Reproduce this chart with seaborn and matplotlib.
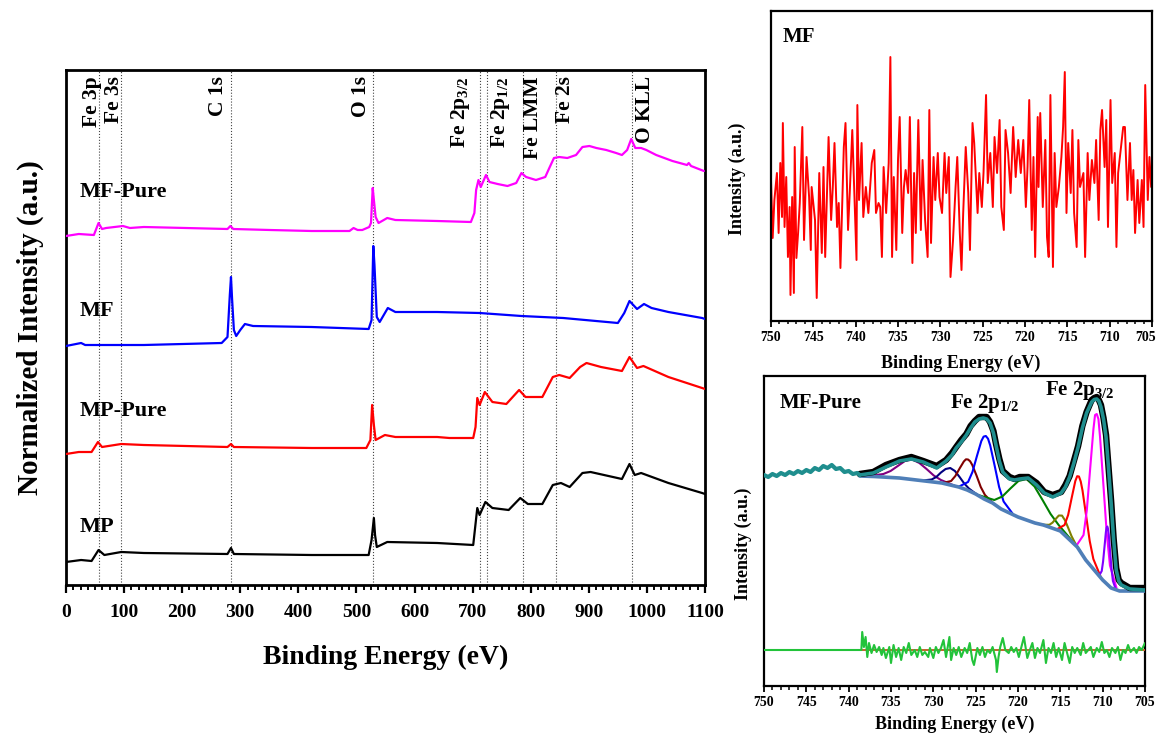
import numpy as np
import pandas as pd
import matplotlib
matplotlib.use("Agg")
import matplotlib.pyplot as plt
import matplotlib.transforms as mtransforms
from matplotlib.ticker import MultipleLocator, FormatStrFormatter
import seaborn as sns

# ------------------------------------------------------------------ survey spectra (offset, normalized)
mp_E = [0, 26, 44, 56, 66, 95, 134, 278, 284, 289, 423, 521, 526, 530, 532, 535, 553, 639, 701, 708,
        712, 722, 734, 762, 782, 795, 820, 838, 852, 867, 889, 903, 957, 970, 979, 990, 1037, 1095, 1100]
mp_I = [23, 25, 24, 35, 30, 33, 32, 31, 37, 31, 30, 30, 45, 67, 50, 38, 43, 42, 40, 77,
        70, 83, 77, 75, 87, 81, 81, 100, 102, 98, 112, 113, 106, 121, 110, 112, 102, 92, 91]

mpp_E = [0, 22, 44, 55, 62, 95, 134, 278, 284, 289, 423, 517, 524, 527, 530, 533, 549, 567, 639, 660,
         701, 705, 708, 712, 721, 734, 758, 780, 791, 820, 838, 849, 867, 885, 896, 921, 957, 970, 983,
         994, 1037, 1095, 1100]
mpp_I = [131, 133, 133, 143, 138, 141, 140, 138, 141, 138, 137, 137, 145, 180, 160, 145, 150, 148, 148, 147,
         147, 158, 187, 180, 193, 183, 181, 195, 188, 188, 208, 210, 207, 218, 222, 218, 214, 228, 217,
         219, 208, 197, 196]

mf_E = [0, 26, 33, 134, 268, 278, 282, 284, 286, 289, 293, 300, 308, 322, 423, 521, 526, 529, 531, 535,
        540, 554, 567, 639, 712, 784, 856, 950, 961, 970, 983, 995, 1008, 1037, 1095, 1100]
mf_I = [239, 242, 240, 240, 242, 248, 290, 308, 285, 255, 249, 255, 261, 259, 258, 256, 265, 339, 320, 268,
        263, 277, 273, 273, 272, 269, 267, 262, 272, 284, 276, 281, 277, 273, 267, 266]

mfp_E = [0, 22, 48, 56, 62, 69, 98, 110, 134, 206, 278, 283, 288, 351, 423, 488, 495, 502, 510, 522,
         525, 528, 530, 533, 538, 553, 567, 639, 697, 703, 706, 710, 714, 723, 729, 743, 760, 775, 784,
         792, 809, 825, 832, 840, 849, 863, 878, 889, 901, 913, 930, 947, 957, 966, 973, 980, 990, 999,
         1016, 1044, 1069, 1072, 1076, 1098]
mfp_I = [349, 351, 350, 362, 356, 357, 359, 357, 358, 357, 356, 359, 356, 355, 354, 354, 357, 355, 355, 358,
         362, 397, 385, 368, 362, 367, 365, 364, 363, 372, 395, 405, 398, 410, 403, 401, 399, 402, 412,
         408, 405, 408, 417, 427, 428, 427, 430, 438, 439, 437, 435, 432, 430, 435, 446, 437, 437, 435,
         430, 424, 420, 422, 419, 414]

survey_names = ["MF-Pure", "MF", "MP-Pure", "MP"]

peak_names = ["Fe 3p", "Fe 3s", "C 1s", "O 1s", r"Fe 2p$_{3/2}$", r"Fe 2p$_{1/2}$", "Fe LMM", "Fe 2s", "O KLL"]
peak_E = [57, 95, 284, 529, 712, 724, 787, 844, 975]

# ------------------------------------------------------------------ MF Fe 2p high resolution (noise only)
mfz_E = [750.0, 749.8, 749.6, 749.3, 749.1, 748.9, 748.7, 748.6, 748.4, 748.2,
         748.0, 747.8, 747.7, 747.5, 747.3, 747.2, 747.0, 746.8, 746.6, 746.3,
         746.1, 745.8, 745.5, 745.3, 745.2, 744.8, 744.6, 744.3, 744.0, 743.8,
         743.6, 743.3, 743.2, 742.9, 742.7, 742.5, 742.2, 742.0, 741.8, 741.4,
         741.2, 740.9, 740.7, 740.4, 740.1, 739.9, 739.8, 739.6, 739.3, 739.1,
         738.8, 738.5, 738.1, 737.8, 737.6, 737.3, 737.1, 736.9, 736.7, 736.4,
         736.1, 735.9, 735.7, 735.5, 735.2, 735.0, 734.8, 734.5, 734.3, 734.1,
         733.8, 733.6, 733.3, 733.1, 732.9, 732.6, 732.3, 732.1, 731.8, 731.5,
         731.3, 731.1, 730.8, 730.6, 730.3, 730.1, 729.8, 729.5, 729.3, 729.0,
         728.8, 728.5, 728.2, 728.0, 727.7, 727.5, 727.3, 727.0, 726.7, 726.5,
         726.2, 726.0, 725.6, 725.4, 725.1, 724.9, 724.6, 724.4, 724.1, 723.8,
         723.6, 723.3, 723.0, 722.8, 722.5, 722.3, 722.0, 721.7, 721.4, 721.1,
         720.8, 720.5, 720.2, 719.9, 719.7, 719.5, 719.2, 719.0, 718.8, 718.5,
         718.4, 718.2, 717.9, 717.6, 717.4, 717.2, 717.0, 716.7, 716.5, 716.3,
         716.0, 715.7, 715.5, 715.3, 715.1, 714.9, 714.6, 714.4, 714.2, 713.9,
         713.7, 713.5, 713.1, 712.9, 712.6, 712.4, 712.1, 711.8, 711.6, 711.3,
         711.1, 710.9, 710.6, 710.4, 710.2, 709.9, 709.7, 709.4, 709.2, 709.0,
         708.7, 708.4, 708.2, 707.9, 707.6, 707.4, 707.2, 707.0, 706.7, 706.5,
         706.2, 706.0, 705.8, 705.5, 705.3, 705.1]
mfz_I = [140, 82, 120, 147, 87, 157, 103, 197, 93, 143,
         63, 113, 25, 123, 27, 173, 62, 87, 117, 193,
         80, 163, 123, 70, 133, 100, 22, 147, 67, 153,
         63, 153, 183, 100, 133, 177, 93, 117, 52, 173,
         197, 90, 127, 190, 113, 60, 215, 120, 177, 103,
         133, 107, 157, 170, 107, 117, 113, 63, 153, 107,
         157, 263, 63, 143, 70, 160, 203, 87, 133, 150,
         127, 203, 57, 147, 87, 200, 90, 160, 100, 63,
         210, 77, 163, 120, 167, 123, 107, 167, 127, 163,
         43, 80, 133, 163, 87, 50, 107, 173, 127, 70,
         197, 177, 107, 147, 113, 147, 225, 137, 167, 113,
         183, 147, 200, 113, 90, 190, 167, 127, 193, 143,
         180, 147, 180, 113, 153, 220, 90, 163, 63, 203,
         133, 207, 113, 180, 83, 63, 225, 53, 167, 113,
         133, 163, 193, 248, 107, 177, 127, 190, 107, 73,
         180, 133, 147, 63, 167, 120, 160, 137, 180, 100,
         190, 210, 153, 200, 93, 220, 137, 167, 73, 147,
         170, 193, 193, 120, 177, 120, 150, 87, 140, 97,
         140, 93, 235, 120, 163, 133]

# ------------------------------------------------------------------ MF-Pure Fe 2p fit
raw_left_E = [750.0, 749.5, 749.0, 748.5, 748.0, 747.5, 747.0, 746.5, 746.0, 745.5, 745.0, 744.5,
              744.0, 743.5, 743.0, 742.5, 742.0, 741.5, 741.0, 740.5, 740.0, 739.5, 739.0, 738.7]
raw_left_I = [210, 208, 211, 209, 212, 210, 213, 211, 214, 212, 215, 213,
              217, 215, 219, 217, 220, 216, 217, 213, 214, 211, 212, 210]

fit_E = [738.7, 737.1, 735.6, 734.0, 732.6, 731.2, 729.6, 728.5, 727.8, 727.3,
         726.7, 726.1, 725.6, 725.1, 724.6, 724.1, 723.7, 723.3, 722.9, 722.6,
         722.2, 721.8, 721.0, 720.4, 719.8, 718.8, 717.8, 716.9, 715.9, 714.9,
         714.4, 713.9, 713.4, 712.9, 712.4, 711.9, 711.3, 711.0, 710.7, 710.45,
         710.2, 709.9, 709.6, 709.3, 709.0, 708.7, 708.4, 708.1, 707.8, 706.8, 705.0]
envelope_I = [210, 212, 218, 224, 226, 223, 217, 224, 230, 237,
              243, 250, 257, 263, 266, 267, 266, 262, 252, 240,
              224, 213, 206, 205, 206, 207, 200, 192, 188, 192,
              198, 208, 222, 238, 257, 272, 283, 285.5, 286, 284,
              278, 266, 248, 216, 182, 145, 115, 104, 100, 96, 95]
data_I = [211, 213, 220, 225, 228, 224, 219, 225, 232, 238,
          245, 251, 259, 264, 268, 268, 268, 263, 254, 241,
          226, 214, 208, 206, 208, 208, 202, 193, 190, 193,
          200, 209, 224, 239, 259, 273, 285, 287, 288, 285,
          280, 267, 250, 217, 184, 146, 117, 105, 102, 97, 97]

bg_E = [738.7, 737, 736, 735, 734, 733, 732, 731, 730, 729, 728, 727, 726, 725, 724, 723, 722, 721,
        720, 719, 718, 717, 716, 715, 714, 713, 712, 711, 710, 709, 708, 707, 706, 705]
bg_I = [209, 208.5, 208, 207.5, 207, 206, 205, 204, 203, 202, 200, 198, 195, 191, 186, 182, 176, 172,
        168, 165, 162, 160, 157, 154, 146, 138, 125, 115, 105, 97, 94, 94, 94, 94]

sat1_E = [737.6, 735.9, 735.05, 734.2, 733.35, 732.5, 731.65, 730.8, 729.95, 729.1, 727.4]
sat1_I = [209, 211, 214, 219, 224, 225.5, 222, 216, 209.5, 205, 199]
sat2_E = [731.3, 730.2, 729.65, 729.1, 728.55, 728.0, 727.45, 726.9, 726.35, 725.8, 724.7]
sat2_I = [204.5, 205.5, 208, 212.5, 216, 217, 214, 208, 201.5, 196.5, 189.5]
p12a_E = [728.9, 727.9, 727.4, 726.9, 726.4, 726.15, 725.9, 725.65, 725.4, 724.9, 724.4, 723.9, 722.9]
p12a_I = [202, 204, 209, 216.5, 223.5, 225.7, 225.5, 223.7, 220, 209.5, 198, 190, 181.5]
p12b_E = [726.95, 725.9, 725.38, 724.85, 724.33, 724.06, 723.8, 723.54, 723.28, 722.75, 722.23, 721.7, 720.65]
p12b_I = [198.5, 203, 213, 229, 244, 248.4, 249, 246.3, 239.5, 219, 198, 183.5, 171.5]
sat3_E = [724.7, 722.8, 721.85, 720.9, 719.95, 719.0, 718.05, 717.1, 716.15, 715.2, 713.3]
sat3_I = [190, 185, 188.5, 196.5, 204, 206, 198.5, 185, 171, 160, 141]
p32a_E = [717.05, 716.3, 715.93, 715.55, 715.18, 714.8, 714.43, 714.05, 713.68, 713.3, 712.55]
p32a_I = [160.3, 160.2, 162.3, 166, 169.5, 169.4, 164.4, 156.7, 148.9, 142.7, 132.4]
p32b_E = [715.35, 714.5, 714.08, 713.65, 713.23, 713.01, 712.8, 712.59, 712.38, 711.95, 711.53, 711.1, 710.25]
p32b_I = [156, 160, 170, 187.5, 204, 208.8, 208.5, 203.5, 194.5, 169, 144, 126, 108.5]
p32c_E = [713.05, 712.26, 711.87, 711.48, 711.09, 710.9, 710.7, 710.5, 710.31, 709.92, 709.53, 709.14, 708.36]
p32c_I = [140, 150, 175, 216, 256, 270, 271, 266, 248, 201, 153, 119.5, 97]
p32d_E = [710.44, 710.11, 709.95, 709.78, 709.62, 709.53, 709.45, 709.37, 709.28, 709.12, 708.95, 708.79, 708.46]
p32d_I = [109, 114, 123.5, 138.5, 153, 157.5, 158.5, 156.2, 150.5, 133, 116, 104, 96]

res_E = [750.0, 738.5,
         738.4, 738.2, 738.0, 737.8, 737.6, 737.3, 737.0, 736.7, 736.4, 736.1,
         735.9, 735.6, 735.2, 735.0, 734.7, 734.4, 734.1, 733.8, 733.5, 733.2,
         732.9, 732.6, 732.2, 731.9, 731.6, 731.3, 731.0, 730.6, 730.4, 730.0,
         729.7, 729.4, 729.1, 728.8, 728.5, 728.1, 727.9, 727.6, 727.3, 727.0,
         726.7, 726.3, 726.0, 725.7, 725.4, 725.2, 724.8, 724.5, 724.2, 723.9,
         723.6, 723.3, 723.0, 722.6, 722.5, 722.3, 722.1, 721.8, 721.5, 721.1,
         720.8, 720.5, 720.2, 719.9, 719.6, 719.3, 718.9, 718.6, 718.3, 718.0,
         717.7, 717.4, 717.0, 716.7, 716.4, 716.1, 715.8, 715.5, 715.2, 714.8,
         714.5, 714.2, 713.9, 713.6, 713.3, 713.0, 712.6, 712.3, 712.0, 711.7,
         711.4, 711.1, 710.7, 710.4, 710.1, 709.8, 709.5, 709.2, 708.9, 708.5,
         708.2, 707.9, 707.6, 707.3, 707.0, 706.7, 706.3, 706.0, 705.7, 705.4,
         705.0]
res_I = [35, 35,
         53, 38, 48, 28, 42, 32, 40, 33, 38, 30,
         37, 27, 38, 22, 40, 28, 37, 25, 38, 32,
         42, 30, 35, 28, 38, 30, 33, 28, 37, 27,
         38, 32, 37, 45, 28, 48, 25, 37, 30, 38,
         28, 37, 32, 42, 25, 20, 37, 30, 38, 28,
         35, 32, 38, 25, 13, 28, 38, 47, 35, 32,
         38, 33, 37, 28, 38, 48, 27, 35, 42, 27,
         37, 32, 45, 22, 37, 32, 42, 28, 37, 25,
         42, 32, 22, 38, 32, 37, 30, 42, 32, 35,
         38, 28, 37, 33, 43, 32, 35, 28, 37, 32,
         38, 25, 35, 32, 40, 33, 37, 32, 38, 35,
         42]
res_zero_E = [738.5, 705.0]
res_zero_I = [35, 35]

# ------------------------------------------------------------------ style
sns.set_theme(style="ticks")
plt.rcParams["font.family"] = ["Liberation Serif", "DejaVu Serif"]
plt.rcParams["font.weight"] = "bold"
plt.rcParams["axes.labelweight"] = "bold"
plt.rcParams["mathtext.fontset"] = "custom"
plt.rcParams["mathtext.rm"] = "Liberation Serif:bold"
plt.rcParams["mathtext.it"] = "Liberation Serif:bold"
plt.rcParams["mathtext.bf"] = "Liberation Serif:bold"
plt.rcParams["text.color"] = "black"
plt.rcParams["axes.labelcolor"] = "black"
plt.rcParams["xtick.color"] = "black"
plt.rcParams["ytick.color"] = "black"

W, H = 1159, 736
fig = plt.figure(figsize=(W / 100, H / 100), dpi=100)
fig.patch.set_facecolor("white")


def px_axes(l, t, r, b):
    return fig.add_axes([l / W, 1 - b / H, (r - l) / W, (b - t) / H])


def draw(ax, x, y, color, lw, z=2):
    sns.lineplot(x=x, y=y, ax=ax, color=color, linewidth=lw, estimator=None,
                 sort=False, legend=False, zorder=z, solid_joinstyle="round")


def style(ax, spine_w, maj, mino, tw, lsize, pad):
    ax.set_facecolor("white")
    for s in ax.spines.values():
        s.set_visible(True)
        s.set_linewidth(spine_w)
        s.set_color("black")
    ax.tick_params(axis="x", which="major", direction="out", length=maj, width=tw,
                   labelsize=lsize, pad=pad, bottom=True, top=False, colors="black")
    ax.tick_params(axis="x", which="minor", direction="out", length=mino, width=tw * 0.85,
                   bottom=True, top=False, colors="black")
    ax.tick_params(axis="y", which="both", left=False, right=False, labelleft=False)
    for lab in ax.get_xticklabels():
        lab.set_fontweight("bold")


# ------------------------------------------------------------------ main survey panel
ax = px_axes(66, 70, 705, 585)
for E, I, c in [(mp_E, mp_I, "black"), (mpp_E, mpp_I, "#ff0000"),
                (mf_E, mf_I, "#0000ff"), (mfp_E, mfp_I, "#ff00ff")]:
    draw(ax, E, I, c, 1.6, z=3)
ax.set_xlim(0, 1100)
ax.set_ylim(0, 515)
ax.xaxis.set_major_locator(MultipleLocator(100))
ax.xaxis.set_minor_locator(MultipleLocator(12.5))
ax.xaxis.set_major_formatter(FormatStrFormatter("%d"))
style(ax, 2.0, 6, 3.5, 1.6, 14, 8)

for e in peak_E:
    ax.axvline(e, color="#444444", ls=":", lw=0.8, zorder=1)

blend = mtransforms.blended_transform_factory(ax.transData, ax.transAxes)
label_dx_px = [-7.5, -7, -12.5, -12.5, -19.5, 14, 10, 8.5, 13]
for name, e, dx in zip(peak_names, peak_E, label_dx_px):
    tr = mtransforms.offset_copy(blend, fig=fig, x=dx, y=0, units="dots")
    ax.text(e, 0.988, name, transform=tr, rotation=90, ha="center", va="top",
            fontsize=15.5, fontweight="bold")

for name, yb in zip(survey_names, [0.753, 0.522, 0.328, 0.103]):
    ax.text(0.022, yb, name, transform=ax.transAxes, ha="left", va="baseline",
            fontsize=16, fontweight="bold")

ax.set_xlabel("Binding Energy (eV)", fontsize=20, fontweight="bold", va="center")
ax.xaxis.set_label_coords(0.5, -0.14)
ax.set_ylabel("Normalized Intensity (a.u.)", fontsize=21, fontweight="bold", va="center")
ax.yaxis.set_label_coords(-0.056, 0.5)

# ------------------------------------------------------------------ top-right: MF
ax2 = px_axes(771, 11, 1152, 321)
draw(ax2, mfz_E, mfz_I, "#ff0000", 1.4)
ax2.set_xlim(750, 705)
ax2.set_ylim(-1, 309)
ax2.xaxis.set_major_locator(MultipleLocator(5))
ax2.xaxis.set_minor_locator(MultipleLocator(1))
ax2.xaxis.set_major_formatter(FormatStrFormatter("%d"))
style(ax2, 1.6, 4, 2.5, 1.3, 10, 3.5)
ax2.text(0.031, 0.90, "MF", transform=ax2.transAxes, ha="left", va="baseline",
         fontsize=15, fontweight="bold")
ax2.set_xlabel("Binding Energy (eV)", fontsize=13, fontweight="bold", va="center")
ax2.xaxis.set_label_coords(0.499, -0.136)
ax2.set_ylabel("Intensity (a.u.)", fontsize=13, fontweight="bold", va="center")
ax2.yaxis.set_label_coords(-0.089, 0.46)

# ------------------------------------------------------------------ bottom-right: MF-Pure fit
ax3 = px_axes(764, 376, 1145, 686)
comps = [(sat1_E, sat1_I, "#800080"), (sat2_E, sat2_I, "#000080"), (p12a_E, p12a_I, "#800000"),
         (p12b_E, p12b_I, "#0000ff"), (sat3_E, sat3_I, "#008000"), (p32a_E, p32a_I, "#808000"),
         (p32b_E, p32b_I, "#ff0000"), (p32c_E, p32c_I, "#ff00ff"), (p32d_E, p32d_I, "#8000ff")]
for E, I, c in comps:
    draw(ax3, E, I, c, 1.5, z=3)
draw(ax3, bg_E, bg_I, "#4f7fb8", 2.6, z=4)
draw(ax3, fit_E, data_I, "black", 4.6, z=5)
draw(ax3, raw_left_E, raw_left_I, "#1f8e8e", 3.0, z=6)
draw(ax3, fit_E, envelope_I, "#1f8e8e", 2.6, z=6)
draw(ax3, res_zero_E, res_zero_I, "#c0652a", 1.4, z=3)
draw(ax3, res_E, res_I, "#22c33a", 1.5, z=4)
ax3.set_xlim(750, 705)
ax3.set_ylim(-1, 309)
ax3.xaxis.set_major_locator(MultipleLocator(5))
ax3.xaxis.set_minor_locator(MultipleLocator(1))
ax3.xaxis.set_major_formatter(FormatStrFormatter("%d"))
style(ax3, 1.6, 4.5, 3, 1.3, 10, 3)
ax3.text(0.042, 0.897, "MF-Pure", transform=ax3.transAxes, ha="left", va="baseline",
         fontsize=15, fontweight="bold")
ax3.text(0.488, 0.897, r"Fe 2p$_{1/2}$", transform=ax3.transAxes, ha="left", va="baseline",
         fontsize=15, fontweight="bold")
ax3.text(0.738, 0.939, r"Fe 2p$_{3/2}$", transform=ax3.transAxes, ha="left", va="baseline",
         fontsize=15, fontweight="bold")
ax3.set_xlabel("Binding Energy (eV)", fontsize=13, fontweight="bold", va="center")
ax3.xaxis.set_label_coords(0.5, -0.124)
ax3.set_ylabel("Intensity (a.u.)", fontsize=13, fontweight="bold", va="center")
ax3.yaxis.set_label_coords(-0.055, 0.458)

# keep the last tick label of the top-right panel inside the figure
fig.canvas.draw()
shift = mtransforms.ScaledTranslation(-6 / 100, 0, fig.dpi_scale_trans)
for tk in ax2.xaxis.get_major_ticks():
    if tk.label1.get_text() == "705":
        tk.label1.set_transform(tk.label1.get_transform() + shift)

fig.savefig("out.png", dpi=100, facecolor="white")
